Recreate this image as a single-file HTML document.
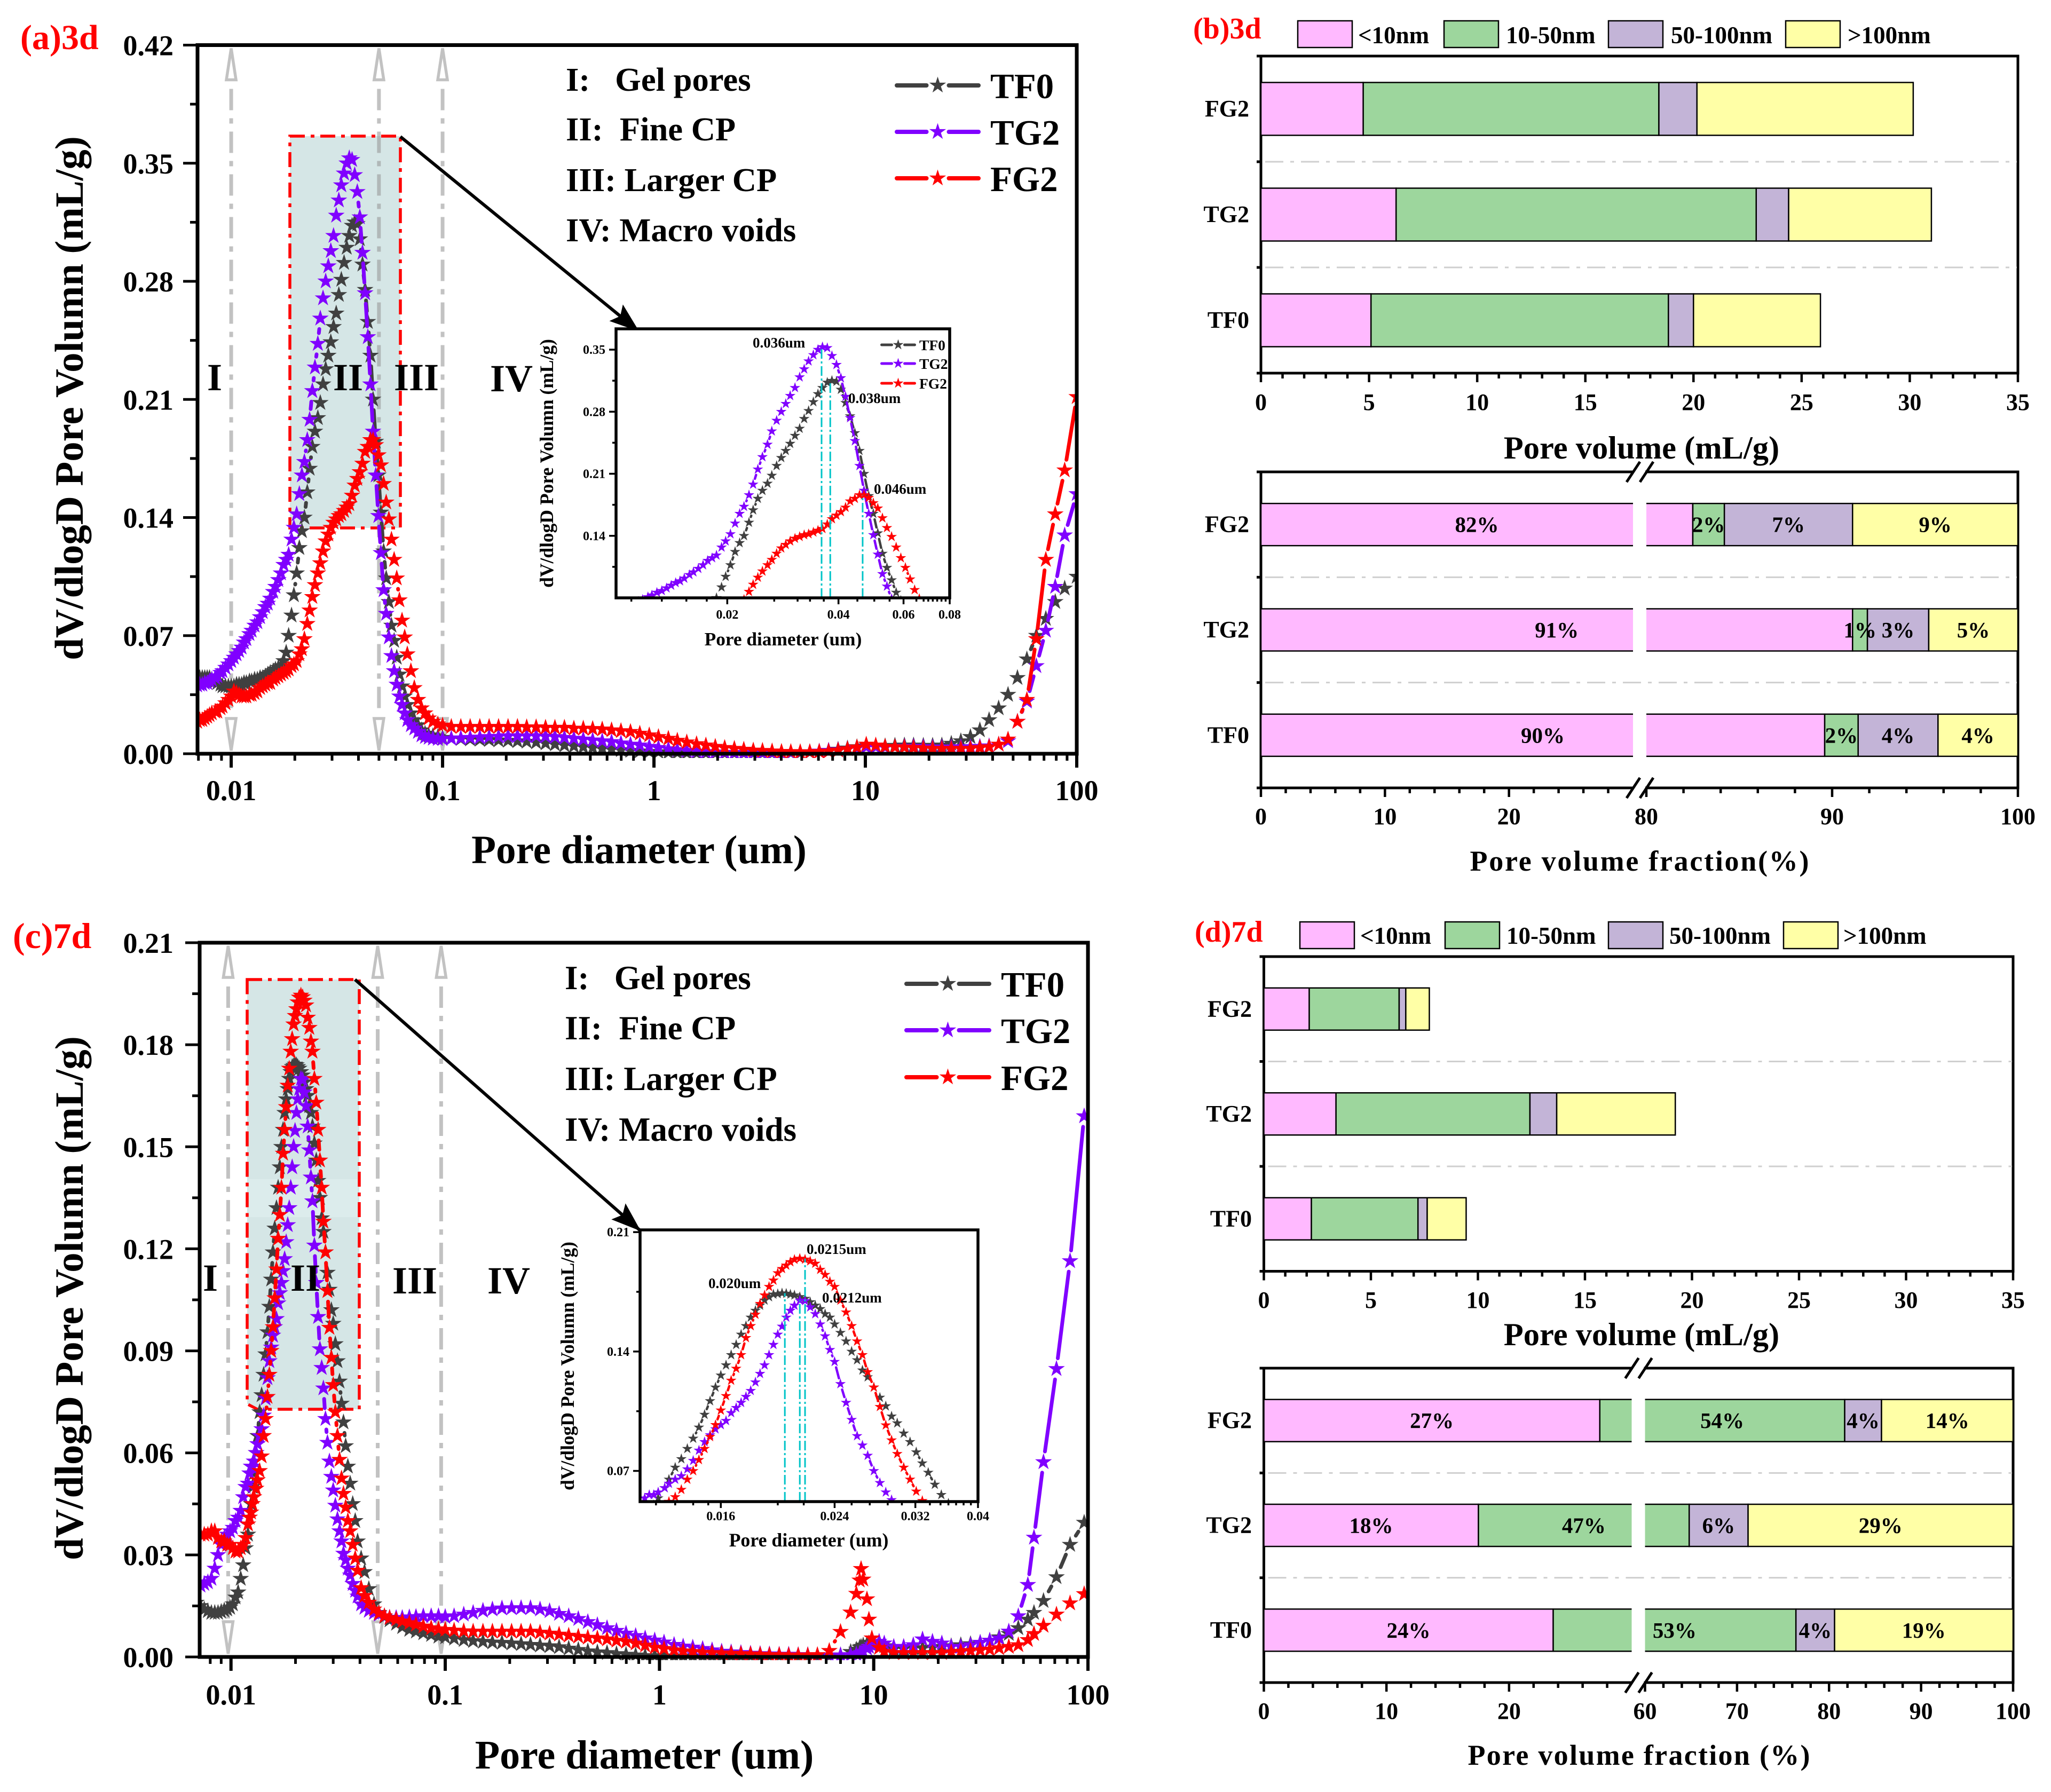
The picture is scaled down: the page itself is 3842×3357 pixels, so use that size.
<!DOCTYPE html>
<html lang="en">
<head>
<meta charset="utf-8">
<title>Pore size distribution charts</title>
<style>
html,body{margin:0;padding:0;background:#fff;}
svg{display:block;}
text{font-family:"Liberation Serif",serif;font-weight:bold;fill:#000;white-space:pre;}
</style>
</head>
<body>
<svg id="figure" xmlns="http://www.w3.org/2000/svg" width="3842" height="3357" viewBox="0 0 3842 3357">
<defs>
<marker id="arrow-head" markerUnits="userSpaceOnUse" markerWidth="60" markerHeight="44" refX="54" refY="22" orient="auto"><path d="M0,2 L56,22 L0,42 L10,22 Z" fill="#000"/></marker>
<clipPath id="clip-a"><rect x="370" y="40" width="1644" height="1380"/></clipPath>
<clipPath id="clip-c"><rect x="374" y="1720" width="1661" height="1390"/></clipPath>
<clipPath id="clip-ia"><rect x="1154" y="616" width="625" height="504"/></clipPath>
<clipPath id="clip-ic"><rect x="1199" y="2304" width="633" height="509"/></clipPath>
</defs>
<rect x="0" y="0" width="3842" height="3357" fill="#fff"/>

<g id="panel-a">
  <rect x="543" y="255" width="207" height="734" fill="#d5e6e6" stroke="#ff0000" stroke-width="5.5" stroke-dasharray="28 11 7 11"/>
  <g id="a-back"></g><g id="a-series" clip-path="url(#clip-a)"></g><g id="a-axes"></g>
  <line x1="750" y1="256" x2="1196" y2="620" stroke="#000" stroke-width="6" marker-end="url(#arrow-head)"/>
  <text x="38" y="92" font-size="66" style="fill:#ff0000">(a)3d</text>
  <text transform="translate(155,746) rotate(-90)" text-anchor="middle" font-size="74.8">dV/dlogD Pore Volumn (mL/g)</text>
  <text x="1197" y="1617" text-anchor="middle" font-size="75.2">Pore diameter (um)</text>
  <text x="402" y="731" text-anchor="middle" font-size="72">I</text>
  <text x="652" y="731" text-anchor="middle" font-size="72">II</text>
  <text x="780" y="731" text-anchor="middle" font-size="72">III</text>
  <text x="958" y="733" text-anchor="middle" font-size="72">IV</text>
  <text x="1060" y="170" font-size="62.6">I:   Gel pores</text>
  <text x="1060" y="263" font-size="62.6">II:  Fine CP</text>
  <text x="1060" y="358" font-size="62.6">III: Larger CP</text>
  <text x="1060" y="452" font-size="62.6">IV: Macro voids</text>
  <g id="a-legend"></g>
  <rect x="1154" y="616" width="625" height="504" fill="#fff"/>
  <g id="ia-back"></g><g id="ia-series" clip-path="url(#clip-ia)"></g><g id="ia-axes"></g>
  <text transform="translate(1036,868) rotate(-90)" text-anchor="middle" font-size="35.5">dV/dlogD Pore Volumn (mL/g)</text>
  <text x="1467" y="1209" text-anchor="middle" font-size="35.3">Pore diameter (um)</text>
  <text x="1410" y="651" font-size="27">0.036um</text>
  <text x="1589" y="755" font-size="27">0.038um</text>
  <text x="1637" y="925" font-size="27">0.046um</text>
  <g id="ia-legend"></g>
</g>

<g id="panel-c">
  <path d="M463,1835 H673 V2640 H482 L463,2630 Z" fill="#d5e6e6" stroke="#ff0000" stroke-width="5.5" stroke-dasharray="28 11 7 11"/>
  <rect x="466" y="2209" width="204" height="71" fill="#dcecec"/>
  <g id="c-back"></g><g id="c-series" clip-path="url(#clip-c)"></g><g id="c-axes"></g>
  <line x1="665" y1="1835" x2="1199" y2="2305" stroke="#000" stroke-width="6" marker-end="url(#arrow-head)"/>
  <text x="24" y="1776" font-size="68" style="fill:#ff0000">(c)7d</text>
  <text transform="translate(155,2432) rotate(-90)" text-anchor="middle" font-size="74.8">dV/dlogD Pore Volumn (mL/g)</text>
  <text x="1207" y="3313" text-anchor="middle" font-size="76">Pore diameter (um)</text>
  <text x="394" y="2418" text-anchor="middle" font-size="72">I</text>
  <text x="572" y="2418" text-anchor="middle" font-size="72">II</text>
  <text x="777" y="2423" text-anchor="middle" font-size="72">III</text>
  <text x="953" y="2423" text-anchor="middle" font-size="72">IV</text>
  <text x="1058" y="1853" font-size="63">I:   Gel pores</text>
  <text x="1058" y="1947" font-size="63">II:  Fine CP</text>
  <text x="1058" y="2042" font-size="63">III: Larger CP</text>
  <text x="1058" y="2137" font-size="63">IV: Macro voids</text>
  <g id="c-legend"></g>
  <rect x="1199" y="2304" width="633" height="509" fill="#fff"/>
  <g id="ic-back"></g><g id="ic-series" clip-path="url(#clip-ic)"></g><g id="ic-axes"></g>
  <text transform="translate(1075,2559) rotate(-90)" text-anchor="middle" font-size="35.5">dV/dlogD Pore Volumn (mL/g)</text>
  <text x="1515" y="2897" text-anchor="middle" font-size="35.8">Pore diameter (um)</text>
  <text x="1511" y="2349" font-size="27">0.0215um</text>
  <text x="1327" y="2413" font-size="27">0.020um</text>
  <text x="1540" y="2440" font-size="27">0.0212um</text>
</g>

<g id="panel-b">
  <text x="2235" y="72" font-size="56" style="fill:#ff0000">(b)3d</text>
  <g id="b-legend"></g>
  <g id="b-upper"></g><g id="b-lower"></g>
  <text x="3075" y="859" text-anchor="middle" font-size="60.5">Pore volume (mL/g)</text>
  <text x="3071" y="1631" text-anchor="middle" font-size="54" textLength="635" lengthAdjust="spacing">Pore volume fraction(%)</text>
</g>

<g id="panel-d">
  <text x="2238" y="1764" font-size="56" style="fill:#ff0000">(d)7d</text>
  <g id="d-legend"></g>
  <g id="d-upper"></g><g id="d-lower"></g>
  <text x="3075" y="2520" text-anchor="middle" font-size="60.5">Pore volume (mL/g)</text>
  <text x="3070" y="3306" text-anchor="middle" font-size="54" textLength="641" lengthAdjust="spacing">Pore volume fraction (%)</text>
</g>
</svg>

<script>
// ---------- data: panel (a) 3d ----------
var diameterA = [
.0069,.0071,.0073,.0075,.0077,.0079,.0081,.0084,.0086,.0089,
.0091,.0094,.0097,.0100,.0103,.0106,.0109,.0112,.0115,.0118,
.0122,.0125,.0129,.0133,.0137,.0141,.0145,.0149,.0153,.0158,
.0162,.0167,.0172,.0177,.0182,.0187,.0193,.0198,.0204,.0210,
.0216,.0222,.0229,.0235,.0242,.0249,.0257,.0264,.0272,.0280,
.0288,.0296,.0305,.0314,.0323,.0332,.0342,.0352,.0362,.0373,
.0384,.0395,.0406,.0418,.0430,.0443,.0456,.0469,.0483,.0497,
.0511,.0526,.0541,.0557,.0573,.0590,.0607,.0625,.0643,.0662,
.0681,.0708,.0735,.0765,.0795,.0826,.0860,.0900,.0950,.100,
.110,.122,.135,.150,.166,.184,.204,.226,.250,.277,
.307,.340,.377,.418,.463,.513,.569,.630,.698,.774,
.857,.950,1.05,1.17,1.29,1.43,1.59,1.76,1.95,2.16,
2.40,2.66,2.95,3.26,3.62,4.01,4.44,4.92,5.46,6.05,
6.70,7.43,8.23,9.12,10.1,11.2,12.4,13.8,15.3,16.9,
18.8,20.8,23.0,25.5,28.3,31.4,34.8,38.5,42.7,47.3,
52.4,58.1,64.4,71.4,79.1,87.7,100];
var tf0A = [
.045,.045,.045,.045,.045,.045,.044,.043,.042,.041,
.040,.040,.040,.040,.040,.041,.041,.041,.042,.042,
.043,.043,.044,.044,.045,.045,.046,.047,.048,.049,
.050,.051,.052,.055,.060,.070,.082,.094,.107,.122,
.132,.140,.155,.169,.182,.191,.199,.208,.219,.228,
.236,.244,.253,.261,.272,.281,.291,.300,.307,.313,
.315,.314,.305,.290,.275,.256,.236,.210,.185,.165,
.143,.120,.104,.090,.076,.067,.057,.047,.040,.034,
.029,.024,.020,.017,.014,.012,.011,.0105,.0100,.0095,
.009,.0088,.0086,.0084,.0082,.008,.0078,.0075,.0072,.0068,
.0062,.0056,.005,.0045,.004,.0035,.003,.0026,.0022,.0018,
.0015,.0012,.001,.0008,.0006,.0005,.0004,.0003,.0002,.0002,
.0002,.0002,.0002,.0002,.0002,.0003,.0004,.0005,.0008,.0012,
.0018,.0025,.0032,.004,.0045,.0045,.0045,.0048,.005,.005,
.0048,.0048,.005,.006,.0075,.010,.014,.020,.027,.035,
.045,.056,.070,.08,.09,.098,.105];
var tg2A = [
.0405,.041,.041,.042,.042,.043,.044,.045,.046,.048,
.049,.051,.053,.055,.057,.059,.061,.063,.066,.068,
.071,.073,.076,.078,.081,.084,.087,.089,.092,.096,
.099,.103,.107,.112,.115,.118,.127,.134,.142,.154,
.165,.173,.186,.198,.215,.229,.243,.258,.27,.28,
.289,.298,.307,.319,.328,.337,.344,.350,.353,.352,
.343,.333,.318,.297,.273,.247,.219,.191,.165,.141,
.119,.097,.083,.069,.058,.049,.041,.034,.029,.024,
.020,.017,.015,.013,.011,.010,.0095,.009,.0088,.0088,
.009,.0092,.0095,.0097,.010,.0102,.0105,.0105,.0105,.0105,
.0103,.010,.0095,.009,.0085,.008,.0075,.007,.0062,.0055,
.005,.0042,.0035,.0028,.0022,.0018,.0014,.0011,.0009,.0007,
.0006,.0005,.0005,.0005,.0005,.0005,.0006,.0008,.0010,.0014,
.0018,.0022,.0028,.0034,.004,.004,.0038,.004,.0042,.0042,
.004,.0038,.0038,.0038,.004,.004,.0042,.0045,.0055,.0075,
.019,.031,.052,.073,.099,.1295,.154];
var fg2A = [
.019,.020,.020,.021,.022,.023,.024,.025,.025,.027,
.028,.030,.032,.034,.037,.036,.035,.034,.034,.034,
.035,.035,.036,.037,.039,.040,.041,.042,.042,.044,
.045,.046,.047,.048,.049,.050,.052,.053,.055,.059,
.062,.068,.077,.085,.093,.10,.107,.113,.12,.126,
.13,.134,.137,.139,.141,.142,.144,.146,.148,.153,
.159,.163,.167,.172,.179,.182,.186,.186,.183,.177,
.171,.160,.149,.139,.127,.115,.104,.091,.079,.069,
.059,.049,.039,.032,.027,.024,.021,.019,.0175,.0168,
.016,.016,.016,.016,.016,.016,.016,.016,.0158,.0158,
.0155,.0155,.0155,.015,.015,.0148,.0145,.014,.0135,.013,
.012,.011,.010,.009,.0078,.0068,.0058,.005,.0042,.0035,
.003,.0025,.002,.0018,.0015,.0012,.0011,.001,.001,.0012,
.0014,.002,.0028,.0038,.0055,.005,.0042,.004,.0038,.0035,
.0032,.003,.003,.003,.003,.003,.0035,.004,.0055,.0085,
.019,.032,.068,.115,.142,.168,.2115];

// ---------- data: panel (c) 7d ----------
var diameterC = [
.0069,.0072,.0075,.0078,.0081,.0084,.0087,.0090,.0093,.0096,
.0099,.0102,.0105,.0108,.0111,.0114,.0117,.0120,.0122,.0124,
.0126,.0128,.0131,.0133,.0136,.0139,.0142,.0145,.0148,.0151,
.0154,.0157,.0160,.0163,.0166,.0169,.0172,.0175,.0178,.0181,
.0184,.0187,.0190,.0193,.0196,.0199,.0202,.0205,.0208,.0212,
.0216,.0220,.0224,.0228,.0232,.0236,.0240,.0245,.0250,.0255,
.0260,.0265,.0270,.0276,.0282,.0288,.0294,.0300,.0307,.0314,
.0321,.0328,.0335,.0343,.0351,.0360,.0370,.0380,.0390,.0405,
.0420,.0440,.0465,.0490,.0520,.0550,.0590,.0630,.0680,.0730,
.0790,.0860,.0930,.100,.110,.122,.135,.150,.166,.184,
.204,.226,.250,.277,.307,.340,.377,.418,.463,.513,
.569,.630,.698,.774,.857,.950,1.05,1.17,1.29,1.43,
1.59,1.76,1.95,2.16,2.40,2.66,2.95,3.26,3.62,4.01,
4.44,4.92,5.46,6.20,7.00,7.80,8.30,8.60,8.73,8.93,
9.30,9.50,9.80,10.6,11.2,12.4,13.8,15.3,16.9,18.8,
20.8,23.0,25.5,28.3,31.4,34.8,38.5,42.7,47.3,52.4,
56,62,71.3,82.5,96];
var tf0C = [
.016,.015,.014,.0135,.013,.013,.013,.0133,.0137,.014,
.0145,.0155,.0175,.019,.023,.027,.032,.036,.041,.045,
.050,.054,.060,.065,.072,.077,.083,.089,.0955,.103,
.111,.119,.126,.132,.138,.144,.150,.155,.160,.164,
.167,.170,.172,.1735,.1738,.1742,.174,.1735,.173,.172,
.171,.169,.167,.165,.162,.16,.156,.151,.146,.14,
.135,.129,.125,.119,.113,.108,.102,.098,.092,.087,
.081,.0745,.069,.062,.056,.051,.045,.040,.034,.029,
.025,.020,.0155,.013,.0118,.0108,.0098,.0088,.008,.0075,
.007,.0065,.006,.0058,.0054,.005,.0047,.0045,.0043,.0042,
.004,.0038,.0036,.0034,.0032,.0029,.0025,.0021,.0017,.0014,
.0012,.0009,.0007,.0005,.0003,.0003,.0002,.0002,.0002,.0002,
.0002,.0002,.0002,.0002,.0002,.0002,.0002,.0002,.0002,.0002,
.0001,.0001,.0001,.0002,.0005,.0015,.0022,.0028,.003,.0034,
.0038,.004,.0042,.004,.0032,.0024,.0024,.0026,.0026,.0028,
.003,.0032,.0035,.0038,.0042,.0048,.0058,.0068,.0085,.011,
.013,.0165,.0235,.033,.0395];
var tg2C = [
.020,.021,.0215,.022,.023,.026,.030,.033,.035,.036,
.037,.038,.040,.041,.043,.047,.050,.051,.054,.056,
.056,.0575,.060,.0626,.065,.067,.071,.076,.082,.087,
.091,.0945,.097,.0994,.104,.107,.110,.1135,.117,.122,
.127,.132,.138,.144,.150,.1547,.16,.164,.167,.170,
.1697,.166,.162,.156,.149,.141,.134,.121,.110,.1,
.0905,.085,.079,.07,.063,.0575,.053,.049,.0445,.0405,
.037,.034,.0304,.0285,.026,.024,.0215,.0195,.0178,.0155,
.0145,.0136,.013,.0125,.012,.0116,.0115,.0115,.0117,.0118,
.012,.012,.012,.0118,.012,.0125,.013,.0136,.014,.0143,
.0144,.0144,.0144,.014,.0135,.0127,.012,.0112,.0103,.0094,
.0085,.0077,.0069,.0062,.0055,.0049,.0043,.0036,.0031,.0028,
.0024,.002,.0016,.0014,.0012,.001,.0009,.0008,.0007,.0007,
.0006,.0006,.0005,.0005,.0005,.0006,.0008,.001,.0012,.0015,
.0025,.003,.0035,.0045,.004,.003,.003,.0035,.0052,.0045,
.004,.003,.003,.0035,.0042,.0048,.0055,.0075,.012,.0212,
.0351,.0573,.0847,.1164,.159];
var fg2C = [
.0355,.036,.036,.036,.037,.037,.035,.034,.034,.033,
.033,.032,.031,.031,.032,.033,.035,.039,.041,.0425,
.045,.047,.0495,.052,.0547,.059,.065,.070,.0765,.083,
.090,.097,.1055,.114,.123,.130,.138,.148,.155,.1617,
.168,.173,.178,.1817,.186,.1885,.1905,.1925,.1939,.1945,
.194,.193,.1916,.188,.185,.181,.178,.170,.163,.155,
.146,.138,.128,.119,.1076,.0968,.088,.080,.072,.065,
.058,.0525,.048,.044,.04,.037,.033,.029,.0254,.0203,
.018,.016,.014,.0128,.012,.0115,.011,.0105,.01,.0095,
.009,.0085,.0082,.008,.0078,.0076,.0075,.0075,.0075,.0075,
.0075,.0075,.0075,.0072,.0069,.0066,.0063,.006,.0057,.0055,
.0052,.0048,.0045,.004,.0034,.0028,.0024,.002,.0017,.0015,
.0013,.0012,.0011,.001,.0009,.0008,.0007,.0006,.0006,.0005,
.0005,.0005,.0006,.0018,.0074,.0131,.0186,.0225,.0259,.0228,
.017,.011,.0055,.0027,.0015,.0012,.0012,.0012,.0012,.0012,
.0012,.0014,.0016,.0018,.002,.0022,.0026,.003,.0035,.005,
.0068,.0092,.0125,.0158,.0185];

// ---------- data: axes, legends, peaks ----------
var seriesNames = ['TF0','TG2','FG2'];
var seriesColors = ['#404040','#8000ff','#ff0000'];
var decadeTicks = [0.01,0.1,1,10,100];
var decadeLabels = ['0.01','0.1','1','10','100'];
var yTicksA = [0,0.07,0.14,0.21,0.28,0.35,0.42];
var yTicksC = [0,0.03,0.06,0.09,0.12,0.15,0.18,0.21];
var guideDiametersA = [0.01,0.05,0.1];
var guideDiametersC = [0.0097,0.0484,0.0957];
var insetXTicksA = [0.02,0.04,0.06,0.08];
var insetXLabelsA = ['0.02','0.04','0.06','0.08'];
var insetXMinorA = [0.011,0.0133,0.0155,0.0176,0.0268,0.031,0.0335,0.0365,0.045,0.05,0.055,0.065,0.068,0.07,0.072,0.074,0.076,0.078];
var insetYTicksA = [0.14,0.21,0.28,0.35];
var insetYMinorA = [0.105,0.175,0.245,0.315];
var insetPeakDiamA = [0.038,0.036,0.0465];
var insetPeakValA = [0.315,0.353,0.186];
var insetXTicksC = [0.016,0.024,0.032,0.04];
var insetXLabelsC = ['0.016','0.024','0.032','0.04'];
var insetXMinorC = [0.0127,0.0136,0.0145,0.0153,0.0196,0.0215,0.0255,0.0272,0.029,0.0305,0.0337,0.035,0.036,0.037,0.038,0.039];
var insetYTicksC = [0.07,0.14,0.21];
var insetYMinorC = [0.105,0.175];
var insetPeakDiamC = [0.0201,0.0212,0.0216];
var insetPeakValC = [0.1742,0.170,0.1945];

// ---------- data: stacked bars ----------
var barCategories = ['FG2','TG2','TF0'];
var sizeClasses = ['<10nm','10-50nm','50-100nm','>100nm'];
var classColors = ['#ffb9ff','#9dd69d','#c3b4d7','#ffffa6'];
var volumeAxisTicks = [0,5,10,15,20,25,30,35];

var volB_under10 = [4.73,6.25,5.09];
var volB_10to50 = [13.67,16.65,13.75];
var volB_50to100 = [1.76,1.5,1.16];
var volB_over100 = [10.0,6.6,5.87];

var volD_under10 = [2.12,3.37,2.22];
var volD_10to50 = [4.2,9.06,4.98];
var volD_50to100 = [0.31,1.25,0.43];
var volD_over100 = [1.1,5.54,1.82];

var fracB_under10 = [82.5,91.1,89.6];
var fracB_10to50 = [1.7,0.8,1.8];
var fracB_50to100 = [6.9,3.3,4.3];
var fracB_over100 = [8.9,4.8,4.3];
var fracB_labels = [['82%','2%','7%','9%'],['91%','1%','3%','5%'],['90%','2%','4%','4%']];

var fracD_under10 = [27.4,17.5,23.6];
var fracD_10to50 = [54.3,47.3,52.8];
var fracD_50to100 = [4.0,6.4,4.2];
var fracD_over100 = [14.3,28.8,19.4];
var fracD_labels = [['27%','54%','4%','14%'],['18%','47%','6%','29%'],['24%','53%','4%','19%']];

var fracLeftTicks = [0,10,20];
var fracRightTicksB = [80,90,100];
var fracRightTicksD = [60,70,80,90,100];

// ---------- drawing helpers ----------
var NS = 'http://www.w3.org/2000/svg';
function mk(tag, attrs, parent, txt){
  var e = document.createElementNS(NS, tag);
  for (var k in attrs) e.setAttribute(k, attrs[k]);
  if (txt !== undefined) e.textContent = txt;
  parent.appendChild(e);
  return e;
}
function $(id){ return document.getElementById(id); }
function starPoints(cx, cy, r){
  var pts = [];
  for (var i = 0; i < 10; i++){
    var rad = i % 2 ? r * 0.382 : r;
    var a = -Math.PI / 2 + i * Math.PI / 5;
    pts.push((cx + rad * Math.cos(a)).toFixed(1) + ',' + (cy + rad * Math.sin(a)).toFixed(1));
  }
  return pts.join(' ');
}
function logScale(lo, hi, l, r){
  var k = (r - l) / (Math.log10(hi) - Math.log10(lo));
  return function(d){ return l + (Math.log10(d) - Math.log10(lo)) * k; };
}
function linScale(lo, hi, b, t){
  return function(v){ return b - (v - lo) / (hi - lo) * (b - t); };
}
// line segments stop short of each symbol, leaving a gap around every star
function drawSeries(group, xs, ys, X, Y, color, name, r, lw, gap, skip){
  var n = Math.min(xs.length, ys.length), d = [];
  for (var i = 0; i < n - 1; i++){
    var x0 = X(xs[i]), y0 = Y(ys[i]), x1 = X(xs[i + 1]), y1 = Y(ys[i + 1]);
    var len = Math.hypot(x1 - x0, y1 - y0);
    if (len <= 2 * gap + 1) continue;
    var ux = (x1 - x0) / len, uy = (y1 - y0) / len;
    d.push('M' + (x0 + ux * gap).toFixed(1) + ',' + (y0 + uy * gap).toFixed(1) + 'L' + (x1 - ux * gap).toFixed(1) + ',' + (y1 - uy * gap).toFixed(1));
  }
  var path = mk('path', {d: d.join(' '), fill: 'none', stroke: color, 'stroke-width': lw, 'stroke-linecap': 'round'}, group);
  
  
  for (var j = 0; j < n; j++){
    if (skip && skip(xs[j], ys[j])) continue;
    var p = mk('polygon', {points: starPoints(X(xs[j]), Y(ys[j]), r), fill: color}, group);
    
    
  }
}
function drawLogTicks(g, X, b, minD, maxD, minorLen, lw){
  for (var e = -3; e < 2; e++){
    for (var m = 2; m < 10; m++){
      var d = m * Math.pow(10, e);
      if (d < minD || d > maxD) continue;
      var t = mk('line', {x1: X(d), x2: X(d), y1: b, y2: b + minorLen, stroke: '#000', 'stroke-width': lw}, g);
      
      
    }
  }
}

// ---------- main distribution charts ----------
function drawMain(o){
  var X = logScale(o.xLo, 100, o.l, o.r), Y = linScale(0, o.yMax, o.b, o.t);
  var back = $(o.id + '-back'), ser = $(o.id + '-series'), ax = $(o.id + '-axes');
  o.guides.forEach(function(d){
    var x = X(d);
    var line = mk('line', {x1: x, x2: x, y1: o.t + 82, y2: o.b - 72, stroke: '#999', 'stroke-opacity': 0.6, 'stroke-width': 7, 'stroke-dasharray': '40 15 10 15'}, back);
    
    
    var up = mk('polygon', {points: x + ',' + (o.t + 6) + ' ' + (x - 9) + ',' + (o.t + 65) + ' ' + (x + 9) + ',' + (o.t + 65), fill: 'none', stroke: '#999', 'stroke-opacity': 0.6, 'stroke-width': 5.5}, back);
    
    
    var dn = mk('polygon', {points: x + ',' + (o.b - 6) + ' ' + (x - 9) + ',' + (o.b - 66) + ' ' + (x + 9) + ',' + (o.b - 66), fill: 'none', stroke: '#999', 'stroke-opacity': 0.6, 'stroke-width': 5.5}, back);
    
    
  });
  seriesNames.forEach(function(nm, i){
    drawSeries(ser, o.xs, o.ys[i], X, Y, seriesColors[i], nm.toLowerCase(), 16.5, 7, 20);
  });
  var frame = mk('rect', {x: o.l, y: o.t, width: o.r - o.l, height: o.b - o.t, fill: 'none', stroke: '#000', 'stroke-width': 7}, ax);
  
  
  o.yTicks.forEach(function(v, i){
    var tick = mk('line', {x1: o.l - 27, x2: o.l, y1: Y(v), y2: Y(v), stroke: '#000', 'stroke-width': 5}, ax);
    
    
    var lab = mk('text', {x: 325, y: Y(v) + 19, 'text-anchor': 'end', 'font-size': 54}, ax, v.toFixed(2));
    
    
    if (i < o.yTicks.length - 1){
      var mv = (v + o.yTicks[i + 1]) / 2;
      var mt = mk('line', {x1: o.l - 14, x2: o.l, y1: Y(mv), y2: Y(mv), stroke: '#000', 'stroke-width': 5}, ax);
      
      
    }
  });
  drawLogTicks(ax, X, o.b, o.xLo, 100, 13, 5);
  decadeTicks.forEach(function(d, i){
    var tick = mk('line', {x1: X(d), x2: X(d), y1: o.b, y2: o.b + 26, stroke: '#000', 'stroke-width': 6}, ax);
    
    
    var lab = mk('text', {x: X(d), y: o.labelY, 'text-anchor': 'middle', 'font-size': 54}, ax, decadeLabels[i]);
    
    
  });
}
function drawLegend(group, x1, x2, ys, textX, offs, fs, r, lw, gap){
  seriesNames.forEach(function(nm, i){
    var cx = (x1 + x2) / 2;
    var left = mk('line', {x1: x1 + lw / 2, x2: cx - gap, y1: ys[i], y2: ys[i], stroke: seriesColors[i], 'stroke-width': lw, 'stroke-linecap': 'round'}, group);
    
    
    var right = mk('line', {x1: cx + gap, x2: x2 - lw / 2, y1: ys[i], y2: ys[i], stroke: seriesColors[i], 'stroke-width': lw, 'stroke-linecap': 'round'}, group);
    
    
    var st = mk('polygon', {points: starPoints(cx, ys[i], r), fill: seriesColors[i]}, group);
    
    
    var tx = mk('text', {x: textX, y: ys[i] + offs, 'font-size': fs}, group, nm);
    
    
  });
}
function drawInset(o){
  var X = logScale(o.xLo, o.xHi, o.l, o.r), Y = linScale(o.yLo, o.yHi, o.b, o.t);
  var ser = $(o.id + '-series'), ax = $(o.id + '-axes');
  seriesNames.forEach(function(nm, i){
    drawSeries(ser, o.xs, o.ys[i], X, Y, seriesColors[i], 'inset-' + nm.toLowerCase(), o.star, 4.5, 11, function(d, v){ return d < o.xLo * 0.9 || d > o.xHi * 1.1 || v < o.yLo - 0.012; });
  });
  o.peakD.forEach(function(d, i){
    var g = mk('line', {x1: X(d), x2: X(d), y1: o.b, y2: Y(o.peakV[i]), stroke: '#00c4c8', 'stroke-width': 3, 'stroke-dasharray': '18 5 4 5'}, ser);
    
    
  });
  var frame = mk('rect', {x: o.l, y: o.t, width: o.r - o.l, height: o.b - o.t, fill: 'none', stroke: '#000', 'stroke-width': 5.5}, ax);
  
  
  o.yTicks.forEach(function(v){
    var t = mk('line', {x1: o.l - 13, x2: o.l, y1: Y(v), y2: Y(v), stroke: '#000', 'stroke-width': 3.5}, ax);
    
    
    var lab = mk('text', {x: o.l - 20, y: Y(v) + 8, 'text-anchor': 'end', 'font-size': 24}, ax, v.toFixed(2));
    
    
  });
  o.yMinor.forEach(function(v){
    var t = mk('line', {x1: o.l - 7, x2: o.l, y1: Y(v), y2: Y(v), stroke: '#000', 'stroke-width': 3.5}, ax);
    
    
  });
  o.xTicks.forEach(function(d, i){
    var t = mk('line', {x1: X(d), x2: X(d), y1: o.b, y2: o.b + 12, stroke: '#000', 'stroke-width': 3.5}, ax);
    
    
    var lab = mk('text', {x: X(d), y: o.labelY, 'text-anchor': 'middle', 'font-size': 24}, ax, o.xLabels[i]);
    
    
  });
  o.xMinor.forEach(function(d){
    var t = mk('line', {x1: X(d), x2: X(d), y1: o.b, y2: o.b + 7, stroke: '#000', 'stroke-width': 3.5}, ax);
    
    
  });
}

// ---------- stacked bars ----------
function drawBarFrame(g, o){
  var band = (o.b - o.t) / 3;
  var frame = mk('rect', {x: o.l, y: o.t, width: o.r - o.l, height: o.b - o.t, fill: 'none', stroke: '#000', 'stroke-width': 5}, g);
  
  
  for (var i = 0; i <= 3; i++){
    var yy = o.t + i * band;
    var t = mk('line', {x1: o.l - 8, x2: o.l, y1: yy, y2: yy, stroke: '#000', 'stroke-width': 5}, g);
    
    
    if (i === 1 || i === 2){
      var s = mk('line', {x1: o.l + 8, x2: o.r - 2, y1: yy, y2: yy, stroke: '#cfcfcf', 'stroke-width': 3, 'stroke-dasharray': '34 13 7 13'}, g);
      
      
    }
  }
  barCategories.forEach(function(c, i){
    var lab = mk('text', {x: o.catX, y: o.t + (i + 0.5) * band + 14, 'text-anchor': 'end', 'font-size': 44}, g, c);
    
    
  });
}
function drawStack(g, o, segs, X, labels){
  var band = (o.b - o.t) / 3;
  barCategories.forEach(function(c, i){
    var cy = o.t + (i + 0.5) * band, cum = 0;
    segs.forEach(function(arr, k){
      var x0 = X(cum), x1 = X(cum + arr[i]);
      var r = mk('rect', {x: x0, y: cy - o.h / 2, width: Math.max(0, x1 - x0), height: o.h, fill: classColors[k], stroke: '#000', 'stroke-width': 2.5}, g);
      
      
      cum += arr[i];
    });
    if (o.gapL){
      var w = mk('rect', {x: o.gapL, y: cy - o.h / 2 - 4, width: o.gapR - o.gapL, height: o.h + 8, fill: '#fff'}, g);
      
      
    }
    if (labels){
      var c2 = 0;
      segs.forEach(function(arr, k){
        var mid = (X(c2) + X(c2 + arr[i])) / 2;
        c2 += arr[i];
        var lab = mk('text', {x: mid, y: cy + 14, 'text-anchor': 'middle', 'font-size': 41}, g, labels[i][k]);
        
        
      });
    }
  });
}
function drawVolume(id, o, segs){
  var g = $(id), X = function(v){ return o.l + v * (o.r - o.l) / 35; };
  drawBarFrame(g, o);
  drawStack(g, o, segs, X, null);
  for (var v = 0; v <= 35; v++){
    var major = v % 5 === 0;
    var t = mk('line', {x1: X(v), x2: X(v), y1: o.b, y2: o.b + (major ? 17 : 10), stroke: '#000', 'stroke-width': 4.5}, g);
    
    
  }
  volumeAxisTicks.forEach(function(v){
    var lab = mk('text', {x: X(v), y: o.labelY, 'text-anchor': 'middle', 'font-size': 44}, g, String(v));
    
    
  });
}
function drawFraction(id, o, segs, labels, rightTicks){
  var g = $(id);
  var X = function(v){
    return v <= 30 ? o.l + v * (o.gapL - o.l) / 30 : (v < o.start ? o.gapL : o.gapR + (v - o.start) * (o.r - o.gapR) / (100 - o.start));
  };
  drawBarFrame(g, o);
  drawStack(g, o, segs, X, labels);
  [o.t, o.b].forEach(function(yy){
    var w = mk('rect', {x: o.gapL + 2, y: yy - 4, width: o.gapR - o.gapL - 4, height: 8, fill: '#fff'}, g);
    
    
    [o.gapL, o.gapR].forEach(function(sx){
      var s = mk('line', {x1: sx - 12, y1: yy + 19, x2: sx + 13, y2: yy - 19, stroke: '#000', 'stroke-width': 5}, g);
      
      
    });
  });
  var v;
  for (v = 0; v < 30; v += 2){
    var t = mk('line', {x1: X(v), x2: X(v), y1: o.b, y2: o.b + (v % 10 === 0 ? 17 : 10), stroke: '#000', 'stroke-width': 4.5}, g);
    
    
  }
  for (v = o.start; v <= 100; v += 2){
    var t2 = mk('line', {x1: X(v), x2: X(v), y1: o.b, y2: o.b + (v % 10 === 0 ? 17 : 10), stroke: '#000', 'stroke-width': 4.5}, g);
    
    
  }
  fracLeftTicks.concat(rightTicks).forEach(function(v){
    var lab = mk('text', {x: X(v), y: o.labelY, 'text-anchor': 'middle', 'font-size': 44}, g, String(v));
    
    
  });
}
function drawBarLegend(id, swatchXs, textXs, y, h, w, base){
  var g = $(id);
  sizeClasses.forEach(function(c, i){
    var s = mk('rect', {x: swatchXs[i], y: y, width: w, height: h, fill: classColors[i], stroke: '#000', 'stroke-width': 2.5}, g);
    
    
    var t = mk('text', {x: textXs[i], y: base, 'font-size': 45}, g, c);
    
    
  });
}

// ---------- render ----------
drawMain({id:'a', l:370, r:2017, t:84.5, b:1412, xLo:0.00693, yMax:0.42, xs:diameterA, ys:[tf0A,tg2A,fg2A], yTicks:yTicksA, guides:guideDiametersA, labelY:1499});
drawMain({id:'c', l:374, r:2038, t:1766, b:3104, xLo:0.00714, yMax:0.21, xs:diameterC, ys:[tf0C,tg2C,fg2C], yTicks:yTicksC, guides:guideDiametersC, labelY:3193});
drawLegend($('a-legend'), 1676, 1837, [160,247,334], 1855, 24, 67, 16.5, 8, 21);
drawLegend($('c-legend'), 1694, 1857, [1843,1930,2018], 1875, 24, 67, 16.5, 8, 21);
drawInset({id:'ia', l:1154, r:1779, t:616, b:1120, xLo:0.01, xHi:0.08, yLo:0.07, yHi:0.3735, xs:diameterA, ys:[tf0A,tg2A,fg2A], star:10.5, yTicks:insetYTicksA, yMinor:insetYMinorA, xTicks:insetXTicksA, xLabels:insetXLabelsA, xMinor:insetXMinorA, peakD:insetPeakDiamA, peakV:insetPeakValA, labelY:1159});
drawInset({id:'ic', l:1199, r:1832, t:2304, b:2813, xLo:0.012, xHi:0.04, yLo:0.052, yHi:0.2113, xs:diameterC, ys:[tf0C,tg2C,fg2C], star:10.5, yTicks:insetYTicksC, yMinor:insetYMinorC, xTicks:insetXTicksC, xLabels:insetXLabelsC, xMinor:insetXMinorC, peakD:insetPeakDiamC, peakV:insetPeakValC, labelY:2848});
drawLegend($('ia-legend'), 1649, 1716, [646,681,718], 1722, 10, 27.5, 10.5, 5, 12);

drawBarLegend('b-legend', [2431,2705,3013,3345], [2544,2821,3130,3461], 39, 50, 102, 81);
drawBarLegend('d-legend', [2435,2707,3013,3341], [2548,2822,3127,3453], 1727, 50, 102, 1768);

drawVolume('b-upper', {l:2362, r:3780, t:105, b:699, h:99, catX:2340, labelY:768},
  [volB_under10, volB_10to50, volB_50to100, volB_over100]);
drawFraction('b-lower', {l:2362, r:3780, t:884, b:1476, h:79, catX:2340, labelY:1544, gapL:3059, gapR:3084, start:80},
  [fracB_under10, fracB_10to50, fracB_50to100, fracB_over100], fracB_labels, fracRightTicksB);
drawVolume('d-upper', {l:2367.5, r:3771, t:1792, b:2381.5, h:79, catX:2345, labelY:2450},
  [volD_under10, volD_10to50, volD_50to100, volD_over100]);
drawFraction('d-lower', {l:2367.5, r:3771, t:2563, b:3152, h:79, catX:2345, labelY:3220, gapL:3056.5, gapR:3081.5, start:60},
  [fracD_under10, fracD_10to50, fracD_50to100, fracD_over100], fracD_labels, fracRightTicksD);
</script>
</body>
</html>
